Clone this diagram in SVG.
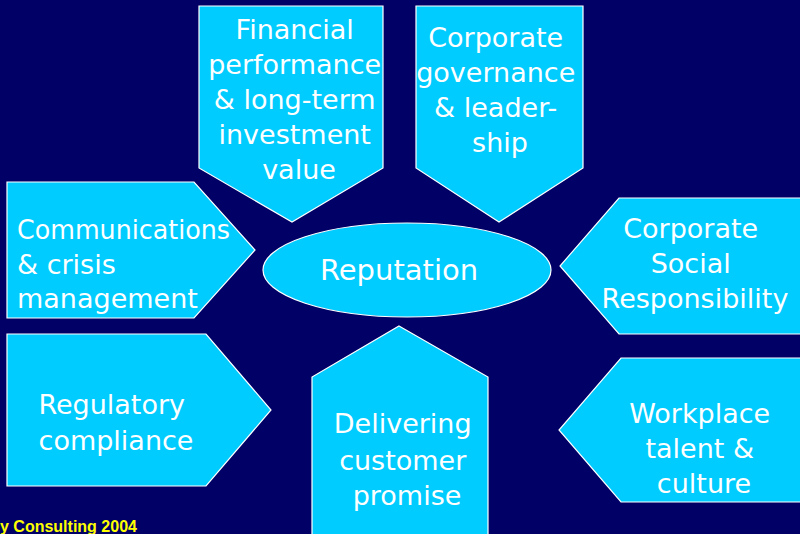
<svg xmlns="http://www.w3.org/2000/svg" width="800" height="534" viewBox="0 0 800 534">
  <style>
    .shape { fill: #00CCFF; stroke: #FFFFFF; stroke-width: 1.2; }
    .label { font-family: "DejaVu Sans", "Open Sans", sans-serif; font-size: 27px; fill: #FFFFFF; }
    .mid { text-anchor: middle; }
    .foot { font-family: "Liberation Sans", Arial, sans-serif; font-size: 16px; font-weight: bold; fill: #FFFF00; }
  </style>
  <rect x="0" y="0" width="800" height="534" fill="#000066"/>

  <g id="connectors"></g>

  <g id="financial">
    <polygon class="shape" points="199,6 383,6 383,168 292,222 199,168"/>
    <text class="label mid" x="299">
      <tspan x="299" y="39">Financial</tspan>
      <tspan x="299" y="74">performance</tspan>
      <tspan x="299" y="109">&amp; long-term</tspan>
      <tspan x="299" y="144">investment</tspan>
      <tspan x="299" y="179">value</tspan>
    </text>
  </g>

  <g id="governance">
    <polygon class="shape" points="416,6 583,6 583,168 499,222 416,168"/>
    <text class="label mid" x="500">
      <tspan x="500" y="47">Corporate</tspan>
      <tspan x="500" y="82">governance</tspan>
      <tspan x="500" y="117">&amp; leader-</tspan>
      <tspan x="500" y="152">ship</tspan>
    </text>
  </g>

  <g id="communications">
    <polygon class="shape" points="7,182 194,182 255,250 194,318 7,318"/>
    <text class="label" x="17">
      <tspan x="17" y="239" textLength="213" lengthAdjust="spacingAndGlyphs">Communications</tspan>
      <tspan x="17" y="274">&amp; crisis</tspan>
      <tspan x="17" y="308">management</tspan>
    </text>
  </g>

  <g id="csr">
    <polygon class="shape" points="619,198 805,198 805,334 619,334 560,266"/>
    <text class="label mid" x="695">
      <tspan x="695" y="238">Corporate</tspan>
      <tspan x="695" y="273">Social</tspan>
      <tspan x="695" y="308">Responsibility</tspan>
    </text>
  </g>

  <g id="reputation">
    <ellipse class="shape" cx="407" cy="270" rx="144" ry="47"/>
    <text class="label mid" x="399" y="280" style="font-size:29px">Reputation</text>
  </g>

  <g id="regulatory">
    <polygon class="shape" points="7,334 206,334 271,410 206,486 7,486"/>
    <text class="label mid" x="116">
      <tspan x="116" y="414">Regulatory</tspan>
      <tspan x="116" y="450">compliance</tspan>
    </text>
  </g>

  <g id="delivering">
    <polygon class="shape" points="399,326 488,377 488,540 312,540 312,377"/>
    <text class="label mid" x="407">
      <tspan x="407" y="433">Delivering</tspan>
      <tspan x="407" y="470">customer</tspan>
      <tspan x="407" y="505">promise</tspan>
    </text>
  </g>

  <g id="workplace">
    <polygon class="shape" points="621,358 805,358 805,502 621,502 559,430"/>
    <text class="label mid" x="704">
      <tspan x="704" y="423">Workplace</tspan>
      <tspan x="704" y="458">talent &amp;</tspan>
      <tspan x="704" y="493">culture</tspan>
    </text>
  </g>

  <text class="foot" x="0" y="532">y Consulting 2004</text>
</svg>
